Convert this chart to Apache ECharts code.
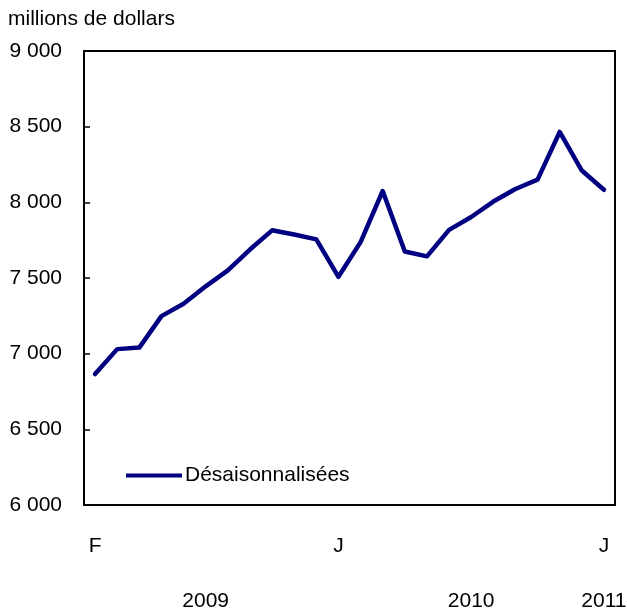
<!DOCTYPE html>
<html><head><meta charset="utf-8">
<script src="https://cdn.jsdelivr.net/npm/echarts@6/dist/echarts.min.js"></script>
<style>html,body{margin:0;padding:0;background:#fff}#c{width:627px;height:615px}</style>
</head><body><div id="c"></div>
<script>
const months = ['F','M','A','M','J','J','A','S','O','N','D','J','F','M','A','M','J','J','A','S','O','N','D','J'];
const years = ['2009','2010','2011'];
const yearIndex = [5,17,23];
const seriesName = 'Désaisonnalisées';
const values = [6865, 7030, 7040, 7248, 7330, 7445, 7550, 7688, 7815, 7787, 7755, 7508, 7737, 8075, 7675, 7643, 7818, 7903, 8005, 8088, 8150, 8465, 8210, 8083];
const shownMonthIdx = [0, 11, 23];
const yTitle = 'millions de dollars';

const font = 'Liberation Sans, Arial, sans-serif';
const fs = 21;
const chart = echarts.init(document.getElementById('c'), null, {renderer:'canvas'});
function fmt(v){ return String(v).replace(/\B(?=(\d{3})+(?!\d))/g, ' '); }
chart.setOption({
  animation:false,
  backgroundColor:'#fff',
  title:{text:yTitle,left:3,top:4,textStyle:{fontFamily:font,fontSize:fs,fontWeight:'normal',color:'#000'}},
  grid:{left:84,right:12,top:51,bottom:110,containLabel:false,outerBoundsMode:'none',show:true,borderColor:'#000',borderWidth:2,backgroundColor:'transparent'},
  legend:{show:true,left:121,top:460,itemWidth:56,itemHeight:4,icon:'rect',itemGap:4,
    textStyle:{fontFamily:font,fontSize:fs,color:'#000',padding:[0,0,0,-2]},
    data:[{name:seriesName,itemStyle:{color:'#000080'}}]},
  xAxis:[{
    type:'category',data:months,boundaryGap:true,
    axisLine:{lineStyle:{color:'#000',width:2}},
    axisTick:{inside:true,length:6,lineStyle:{color:'#000',width:1.5},interval:0},
    axisLabel:{interval:0,margin:31,fontFamily:font,fontSize:fs,color:'#000',
      formatter:(v,i)=>shownMonthIdx.includes(i)?v:''}
  },{
    type:'category',data:months,position:'bottom',boundaryGap:true,
    axisLine:{show:false},axisTick:{show:false},
    axisLabel:{interval:0,margin:86,fontFamily:font,fontSize:fs,color:'#000',
      formatter:(v,i)=>{const k=yearIndex.indexOf(i);return k>=0?years[k]:'';}}
  }],
  yAxis:{type:'value',min:6000,max:9000,interval:500,
    axisLine:{show:true,lineStyle:{color:'#000',width:2}},
    axisTick:{show:true,inside:true,length:6,lineStyle:{color:'#000',width:1.5}},
    splitLine:{show:false},
    axisLabel:{margin:22,fontFamily:font,fontSize:fs,color:'#000',formatter:fmt}},
  series:[{name:seriesName,type:'line',data:values,showSymbol:false,symbol:'none',
    lineStyle:{color:'#000080',width:4.5,cap:'round',join:'round'},itemStyle:{color:'#000080'}}]
});
</script></body></html>
